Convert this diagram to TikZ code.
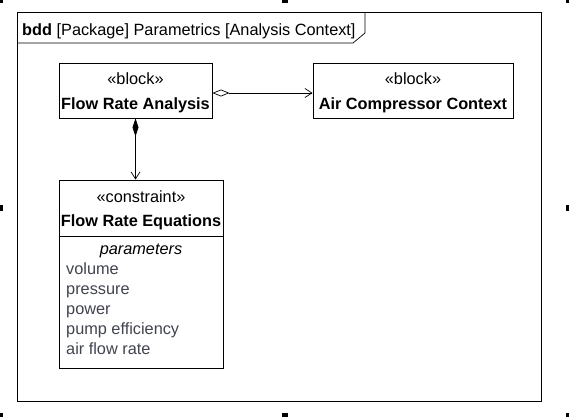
\documentclass[tikz,border=0pt]{standalone}
\usepackage{fontspec}
\setmainfont{Liberation Sans}
\usepackage{tikz}
\usetikzlibrary{positioning,calc,arrows.meta}
\definecolor{paramgray}{RGB}{66,68,78}

\tikzset{
    block/.style={draw, line width=0.9pt, fill=white, inner sep=0pt},
    blocktext/.style={align=center, inner sep=0pt, font=\fontsize{16.3}{24.5}\selectfont},
    param/.style={anchor=base west, inner sep=0pt, text=paramgray, font=\fontsize{16.3}{19}\selectfont},
    link/.style={line width=0.7pt},
}

\begin{document}
\begin{tikzpicture}[x=1pt,y=-1pt]
    \useasboundingbox (0,0) rectangle (569,416);
    % selection handles
    \foreach \hx/\hy in {0/0, 285/0, 569/0, 0/208, 569/208, 0/416, 285/416, 569/416} {
        \fill (\hx-3,\hy-3) rectangle ++(6,6);
    }

    % diagram frame
    \draw[line width=1pt] (17,12) rectangle (541,401);
    \draw[line width=0.7pt] (17,43) -- (353,43) -- (365,33) -- (365,12);
    \node[anchor=base west, inner sep=0pt, font=\fontsize{16.3}{19}\selectfont] (title) at (22,35) {\textbf{bdd} [Package] Parametrics [Analysis Context]};

    % blocks
    \node[block, minimum width=153pt, minimum height=55pt] (fra) at (135.5,90.5) {};
    \node[blocktext] (fraText) at ([yshift=-2.5pt]fra.center) {«block»\\\textbf{Flow Rate Analysis}};
    \node[block, minimum width=200pt, minimum height=55pt] (acc) at (413,90.5) {};
    \node[blocktext] (accText) at ([yshift=-2.5pt]acc.center) {«block»\\\textbf{Air Compressor Context}};

    % constraint block
    \node[block, minimum width=164pt, minimum height=188pt] (fre) at (141,274) {};
    \node[blocktext] (freHead) at (141,210.5) {«constraint»\\\textbf{Flow Rate Equations}};
    \coordinate (div) at (141,236);
    \draw[line width=0.9pt] (fre.west |- div) -- (fre.east |- div);
    \node[anchor=base, inner sep=0pt, font=\fontsize{16.3}{19}\selectfont\itshape] (parHead) at (141,254.5) {parameters};
    \foreach \i/\pname in {0/volume, 1/pressure, 2/power, 3/pump efficiency, 4/air flow rate} {
        \node[param] (par\i) at (66, 274+20*\i) {\pname};
    }

    % connectors
    \draw[link, {Diamond[open,length=17pt,width=7pt]}-{Straight Barb[length=7pt,width=9pt]}] ([yshift=-2.5pt]fra.east) -- ([yshift=-2.5pt]acc.west);
    \draw[link, {Diamond[length=18pt,width=6pt]}-{Straight Barb[length=7pt,width=9pt]}] (fra.south) -- (fra.south |- fre.north);
\end{tikzpicture}
\end{document}
